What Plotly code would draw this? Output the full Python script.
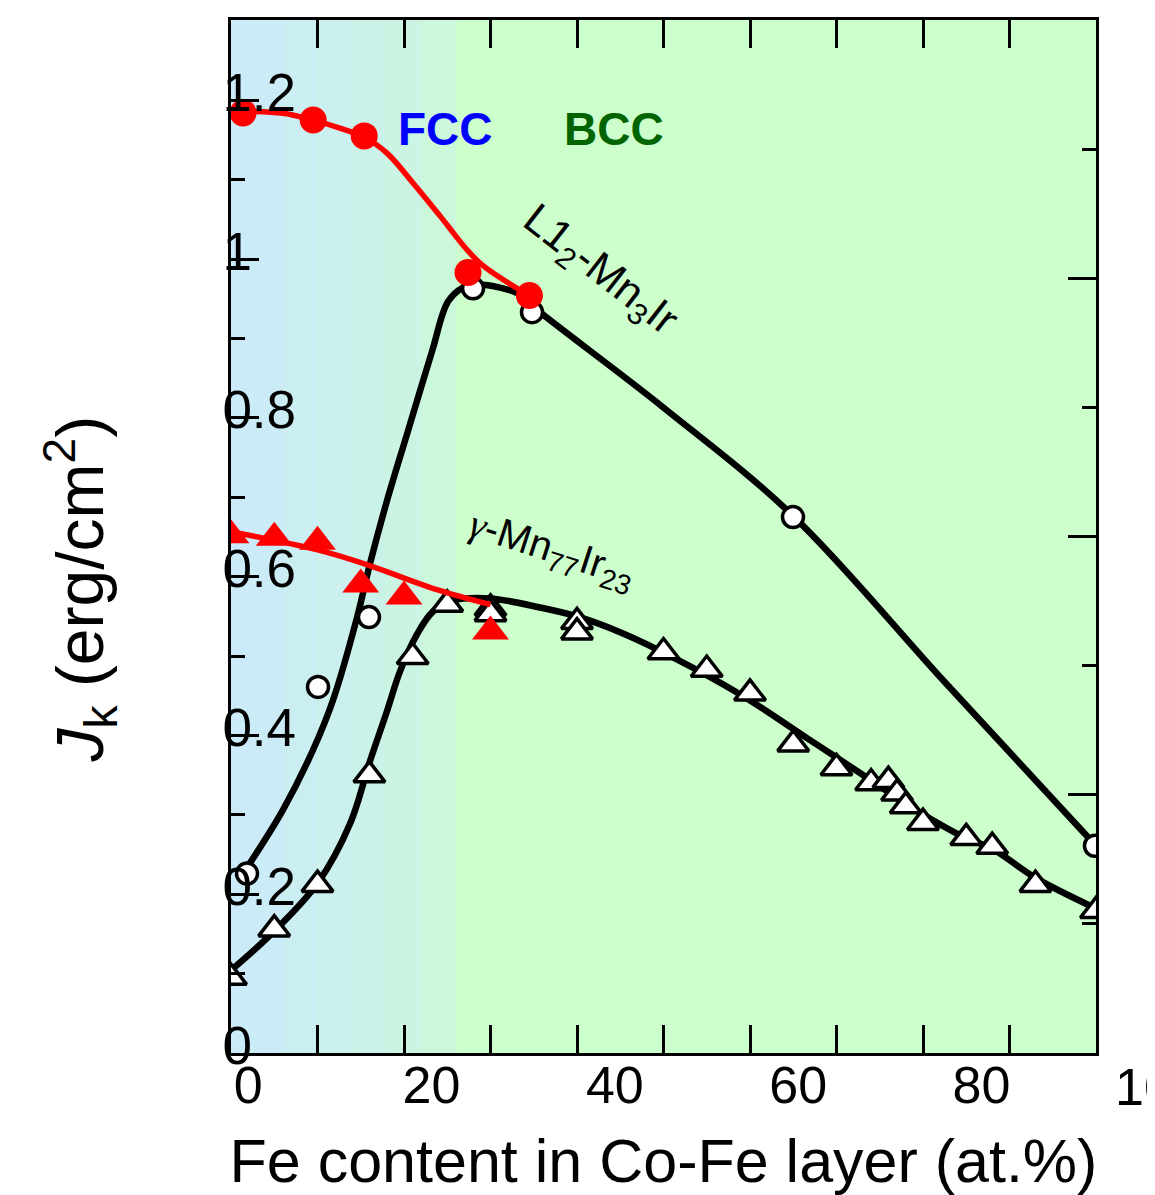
import plotly.graph_objects as go

# ---------------- data ----------------
# L1_2-Mn3Ir / Co-Fe : open circles (black) and filled circles (red)
l12_open_x = [1.85, 10.06, 15.95, 27.98, 34.80, 64.97, 99.88]
l12_open_y = [0.226, 0.461, 0.549, 0.963, 0.933, 0.675, 0.261]
l12_fit_x = [1.85, 6.01, 9.48, 11.79, 14.57, 16.07, 18.03, 20.35, 23.24, 25.09,
             26.82, 28.21, 31.10, 33.41, 34.91, 49.94, 64.97, 82.43, 99.88]
l12_fit_y = [0.2335, 0.3063, 0.3816, 0.4443, 0.5485, 0.6163, 0.6954, 0.7795, 0.8837, 0.9464,
             0.9640, 0.9677, 0.9640, 0.9552, 0.9401, 0.8134, 0.6766, 0.4682, 0.2623]

l12_red_x = [1.4, 9.5, 15.4, 27.4, 34.5]
l12_red_y = [1.184, 1.175, 1.155, 0.983, 0.954]
l12_red_fit_x = [1.39, 6.01, 9.48, 12.60, 15.38, 18.03, 21.04, 24.16, 27.28, 29.13, 34.45]
l12_red_fit_y = [1.1861, 1.1836, 1.1749, 1.1648, 1.1535, 1.1334, 1.0958, 1.0543, 1.0117, 0.9916, 0.9539]

# gamma-Mn77Ir23 / Co-Fe : open triangles (black) and filled triangles (red)
g_open_x = [0, 5, 10, 16, 21, 25, 30, 30, 40, 40, 50, 55, 60, 65, 70, 74, 76, 77, 78,
            80, 85, 88, 93, 100]
g_open_y = [0.095, 0.156, 0.212, 0.350, 0.499, 0.565, 0.560, 0.553, 0.543, 0.530, 0.505,
            0.483, 0.453, 0.389, 0.359, 0.340, 0.343, 0.327, 0.311, 0.290, 0.271, 0.260,
            0.212, 0.179]
g_fit_x = [0, 5.09, 10.06, 13.76, 16.07, 18.03, 19.54, 21.50, 23.35, 25.66, 29.94, 35.72,
           40.0, 45.32, 51.1, 58.84, 66.59, 72.37, 79.31, 84.86, 87.98, 92.95, 100]
g_fit_y = [0.1042, 0.1544, 0.2146, 0.2887, 0.3678, 0.4305, 0.4807, 0.5272, 0.5560, 0.5698,
           0.5724, 0.5611, 0.5498, 0.5284, 0.4983, 0.4519, 0.3966, 0.3552, 0.3050, 0.2711,
           0.2573, 0.2209, 0.1820]

g_red_x = [0, 5, 10, 15, 20, 30]
g_red_y = [0.652, 0.649, 0.644, 0.590, 0.575, 0.531]
g_red_fit_x = [0, 9.9, 15.7, 23.4, 30]
g_red_fit_y = [0.6565, 0.6339, 0.6151, 0.5850, 0.5649]

x_tick_labels = ["0", "20", "40", "60", "80"]
x_tick_label_vals = [0, 20, 40, 60, 80]
y_tick_vals = [0, 0.2, 0.4, 0.6, 0.8, 1.0, 1.2]
y_tick_text = ["0", "0.2", "0.4", "0.6", "0.8", "1", "1.2"]

# background gradient bands (FCC -> BCC)
band_edges = [0, 2.5, 6.3, 10.1, 14.0, 18.0, 22.1, 26.1]
band_colors = ["#CBEBFA", "#CBECF6", "#CBEEF2", "#CBF0EE", "#CBF2E8", "#CBF4E2", "#CBF7DA"]

FONT = "Liberation Sans, Arial, sans-serif"
LABEL_RANGE = [-1.88, 92.5]   # scale of the printed x tick labels

fig = go.Figure()

# black curves + open markers
fig.add_trace(go.Scatter(x=l12_fit_x, y=l12_fit_y, mode="lines", line=dict(color="black", width=6.5, shape="spline"), showlegend=False, hoverinfo="skip"))
fig.add_trace(go.Scatter(x=g_fit_x, y=g_fit_y, mode="lines", line=dict(color="black", width=6.5, shape="spline"), showlegend=False, hoverinfo="skip"))
fig.add_trace(go.Scatter(x=l12_open_x, y=l12_open_y, mode="markers",
                         marker=dict(symbol="circle", size=21, color="white", line=dict(color="black", width=3.5)), showlegend=False))
fig.add_trace(go.Scatter(x=g_open_x, y=g_open_y, mode="markers",
                         marker=dict(symbol="triangle-up", size=27, color="white", line=dict(color="black", width=3.5)), showlegend=False))
# red curves + filled markers
fig.add_trace(go.Scatter(x=l12_red_fit_x, y=l12_red_fit_y, mode="lines", line=dict(color="#FF0000", width=5.5, shape="spline"), showlegend=False, hoverinfo="skip"))
fig.add_trace(go.Scatter(x=g_red_fit_x, y=g_red_fit_y, mode="lines", line=dict(color="#FF0000", width=5.5, shape="spline"), showlegend=False, hoverinfo="skip"))
fig.add_trace(go.Scatter(x=l12_red_x, y=l12_red_y, mode="markers",
                         marker=dict(symbol="circle", size=27, color="#FF0000"), showlegend=False))
fig.add_trace(go.Scatter(x=g_red_x, y=g_red_y, mode="markers",
                         marker=dict(symbol="triangle-up", size=32, color="#FF0000"), showlegend=False))

# empty traces so that the label axis (x2) and the right tick axis (y2) are drawn
fig.add_trace(go.Scatter(x=[], y=[], xaxis="x2", yaxis="y", showlegend=False, hoverinfo="skip"))
fig.add_trace(go.Scatter(x=[], y=[], xaxis="x", yaxis="y2", showlegend=False, hoverinfo="skip"))

shapes = []
for i, c in enumerate(band_colors):
    shapes.append(dict(type="rect", xref="x", yref="paper", x0=band_edges[i], x1=band_edges[i + 1],
                       y0=0, y1=1, fillcolor=c, line=dict(width=0), layer="below"))

annotations = [
    dict(text="<b>FCC</b>", x=24.74, y=1.1635, xref="x", yref="y", showarrow=False,
         font=dict(family=FONT, size=46, color="#0000FF")),
    dict(text="<b>BCC</b>", x=44.28, y=1.1635, xref="x", yref="y", showarrow=False,
         font=dict(family=FONT, size=46, color="#006400")),
    dict(text="L1<sub>2</sub>-Mn<sub>3</sub>Ir", x=42.66, y=0.985, xref="x", yref="y", showarrow=False,
         textangle=38, font=dict(family=FONT, size=43, color="black")),
    dict(text="<span style=\"font-family:'Liberation Serif'\"><i>γ</i></span>-Mn<sub>77</sub>Ir<sub>23</sub>",
         x=37.1, y=0.632, xref="x", yref="y", showarrow=False,
         textangle=18, font=dict(family=FONT, size=40, color="black")),
    # last x tick label, which lies past the right edge of the frame
    dict(text="100", x=1.0717, y=0, xref="paper", yref="paper",
         xanchor="center", yanchor="top", yshift=-3, showarrow=False,
         font=dict(family=FONT, size=52, color="black")),
    # y-axis title
    dict(text="<i>J</i><sub>k</sub> (erg/cm<sup>2</sup>)", x=-0.1746, y=0.4496, xref="paper", yref="paper",
         xanchor="center", yanchor="middle", textangle=-90, showarrow=False,
         font=dict(family=FONT, size=66, color="black")),
]

# the page body has an 8 px margin, so the figure is made 8 px smaller and margins shifted
fig.update_layout(
    width=1147, height=1187, autosize=False,
    margin=dict(l=223, r=59, t=9, b=142),
    paper_bgcolor="white", plot_bgcolor="#CCFFCC",
    font=dict(family=FONT, color="black"),
    shapes=shapes, annotations=annotations,
    xaxis=dict(range=[0, 100], showline=True, linecolor="black", linewidth=3, mirror="allticks",
               ticks="inside", ticklen=28, tickwidth=3, tickcolor="black", tick0=0, dtick=20,
               minor=dict(ticks="inside", dtick=10, ticklen=14, tickwidth=3, tickcolor="black"),
               showticklabels=False, showgrid=False, zeroline=False,
               title=dict(text="Fe content in Co-Fe layer (at.%)", standoff=86,
                          font=dict(family=FONT, size=61, color="black"))),
    xaxis2=dict(overlaying="x", anchor="y", side="bottom", range=LABEL_RANGE,
                tickvals=x_tick_label_vals, ticktext=x_tick_labels, ticks="",
                ticklabelstandoff=-3,
                showline=False, showgrid=False, zeroline=False,
                tickfont=dict(family=FONT, size=52, color="black")),
    yaxis=dict(range=[0, 1.301], showline=True, linecolor="black", linewidth=3, mirror=True,
               ticks="inside", ticklen=28, tickwidth=3, tickcolor="black",
               tickvals=y_tick_vals, ticktext=y_tick_text,
               minor=dict(ticks="inside", tickvals=[0.1, 0.3, 0.5, 0.7, 0.9, 1.1], ticklen=14, tickwidth=3, tickcolor="black"),
               ticklabelposition="inside", ticklabelstandoff=-29, ticklabelshift=-8, ticklabeloverflow="allow",
               tickfont=dict(family=FONT, size=53, color="black"),
               showgrid=False, zeroline=False),
    yaxis2=dict(overlaying="y", anchor="x", side="right", range=[0, 4.002],
                tickvals=[0, 1, 2, 3], ticks="inside", ticklen=28, tickwidth=3, tickcolor="black",
                minor=dict(ticks="inside", tickvals=[0.5, 1.5, 2.5, 3.5], ticklen=14, tickwidth=3, tickcolor="black"),
                showticklabels=False, showline=False, showgrid=False, zeroline=False),
)

fig.write_html("out.html")
